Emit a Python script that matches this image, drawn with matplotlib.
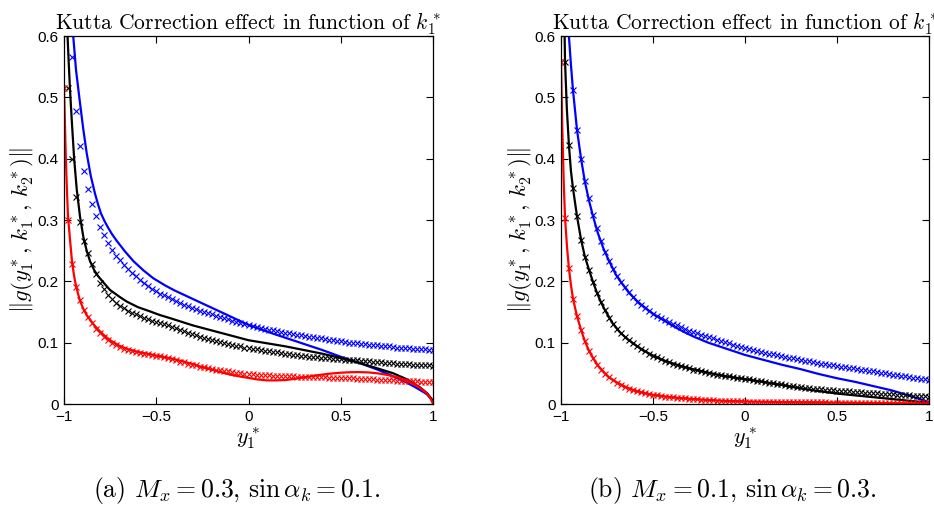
import numpy as np
import matplotlib
matplotlib.use("Agg")
import matplotlib.pyplot as plt

plt.rcParams['mathtext.fontset'] = 'cm'
plt.rcParams['font.family'] = ['Liberation Sans', 'DejaVu Sans']

# ---------------- data ----------------
marker_x = np.linspace(-1, 1, 93)

# (a) M_x = 0.3, sin alpha_k = 0.1
blue_a_markers = [0.95, 0.72, 0.566, 0.478, 0.421, 0.380, 0.350, 0.326, 0.306, 0.289,
                  0.276, 0.262, 0.251, 0.242, 0.234, 0.227, 0.220, 0.214, 0.208, 0.202,
                  0.197, 0.192, 0.188, 0.184, 0.180, 0.177, 0.174, 0.171, 0.168, 0.165,
                  0.162, 0.159, 0.157, 0.155, 0.152, 0.150, 0.148, 0.146, 0.144, 0.142,
                  0.140, 0.138, 0.136, 0.134, 0.132, 0.131, 0.129, 0.127, 0.126, 0.124,
                  0.123, 0.121, 0.120, 0.119, 0.117, 0.116, 0.115, 0.114, 0.113, 0.112,
                  0.111, 0.110, 0.109, 0.108, 0.107, 0.106, 0.105, 0.104, 0.103, 0.102,
                  0.101, 0.100, 0.100, 0.099, 0.098, 0.098, 0.097, 0.096, 0.096, 0.095,
                  0.094, 0.094, 0.093, 0.092, 0.092, 0.091, 0.091, 0.090, 0.090, 0.089,
                  0.089, 0.088, 0.088]
black_a_markers = [0.75, 0.515, 0.400, 0.337, 0.297, 0.266, 0.246, 0.229, 0.212, 0.198,
                   0.187, 0.177, 0.171, 0.165, 0.160, 0.156, 0.152, 0.149, 0.146, 0.143,
                   0.140, 0.138, 0.136, 0.134, 0.132, 0.130, 0.128, 0.126, 0.124, 0.121,
                   0.119, 0.116, 0.114, 0.112, 0.110, 0.108, 0.106, 0.104, 0.102, 0.101,
                   0.099, 0.098, 0.096, 0.095, 0.094, 0.092, 0.091, 0.090, 0.089, 0.088,
                   0.087, 0.086, 0.085, 0.084, 0.083, 0.082, 0.081, 0.080, 0.0795, 0.079,
                   0.078, 0.077, 0.0765, 0.076, 0.0755, 0.075, 0.0745, 0.074, 0.0735, 0.073,
                   0.0725, 0.072, 0.0715, 0.071, 0.0705, 0.070, 0.0695, 0.069, 0.0685, 0.068,
                   0.0675, 0.067, 0.0665, 0.066, 0.0655, 0.065, 0.0647, 0.0643, 0.064, 0.0635,
                   0.0632, 0.0628, 0.0625]
red_a_markers = [0.515, 0.300, 0.229, 0.191, 0.170, 0.153, 0.142, 0.132, 0.123, 0.116,
                 0.110, 0.105, 0.100, 0.096, 0.093, 0.090, 0.088, 0.086, 0.084, 0.083,
                 0.082, 0.081, 0.080, 0.079, 0.078, 0.076, 0.075, 0.073, 0.071, 0.069,
                 0.068, 0.066, 0.064, 0.063, 0.061, 0.060, 0.058, 0.057, 0.056, 0.055,
                 0.054, 0.053, 0.052, 0.051, 0.050, 0.0495, 0.049, 0.0485, 0.048, 0.0475,
                 0.047, 0.0467, 0.0464, 0.0461, 0.0458, 0.0455, 0.0452, 0.045, 0.0448, 0.0446,
                 0.0444, 0.0442, 0.044, 0.0438, 0.0436, 0.0434, 0.0432, 0.043, 0.0428, 0.0425,
                 0.0422, 0.0419, 0.0416, 0.0413, 0.041, 0.0407, 0.0404, 0.0401, 0.0398, 0.0395,
                 0.0392, 0.0389, 0.0386, 0.0383, 0.038, 0.0377, 0.0374, 0.0371, 0.0368, 0.0365,
                 0.0362, 0.0359, 0.0356]

blue_a_line_x = [-0.962, -0.95, -0.935, -0.913, -0.895, -0.877, -0.855, -0.832, -0.815, -0.80,
                 -0.78, -0.76, -0.74, -0.714, -0.67, -0.624, -0.57, -0.516, -0.45, -0.4,
                 -0.3, -0.2, -0.1, 0.0, 0.1, 0.2, 0.3, 0.4, 0.5, 0.6,
                 0.7, 0.785, 0.85, 0.9, 0.94, 0.966, 0.985, 1.0]
blue_a_line_y = [0.66, 0.60, 0.545, 0.49, 0.447, 0.409, 0.372, 0.343, 0.325, 0.311,
                 0.298, 0.287, 0.277, 0.266, 0.249, 0.233, 0.218, 0.205, 0.193, 0.185,
                 0.171, 0.157, 0.143, 0.129, 0.118, 0.108, 0.098, 0.088, 0.077, 0.067,
                 0.056, 0.045, 0.036, 0.028, 0.021, 0.016, 0.010, 0.004]
black_a_line_x = [-0.985, -0.975, -0.967, -0.958, -0.945, -0.931, -0.913, -0.895, -0.877, -0.859,
                  -0.836, -0.814, -0.78, -0.751, -0.70, -0.66, -0.60, -0.534, -0.48, -0.425,
                  -0.3, -0.2, -0.1, 0.0, 0.1, 0.2, 0.3, 0.4, 0.5, 0.6,
                  0.7, 0.785, 0.86, 0.93, 0.97, 1.0]
black_a_line_y = [0.63, 0.56, 0.51, 0.463, 0.40, 0.35, 0.305, 0.272, 0.250, 0.233,
                  0.218, 0.208, 0.196, 0.186, 0.175, 0.167, 0.158, 0.151, 0.145, 0.140,
                  0.128, 0.120, 0.112, 0.104, 0.099, 0.094, 0.088, 0.082, 0.075, 0.067,
                  0.058, 0.050, 0.040, 0.027, 0.017, 0.005]
red_a_line_x = [-1.0, -0.99, -0.983, -0.978, -0.968, -0.958, -0.948, -0.94, -0.925, -0.913,
                -0.895, -0.877, -0.86, -0.84, -0.82, -0.80, -0.775, -0.75, -0.70, -0.65,
                -0.60, -0.55, -0.50, -0.45, -0.40, -0.35, -0.30, -0.25, -0.20, -0.15,
                -0.10, -0.05, 0.0, 0.05, 0.10, 0.15, 0.20, 0.25, 0.30, 0.35,
                0.40, 0.45, 0.50, 0.55, 0.60, 0.65, 0.70, 0.75, 0.80, 0.85,
                0.90, 0.93, 0.96, 0.98, 0.99, 1.0]
red_a_line_y = [0.515, 0.40, 0.34, 0.305, 0.27, 0.237, 0.214, 0.200, 0.181, 0.168,
                0.155, 0.145, 0.138, 0.130, 0.123, 0.117, 0.110, 0.104, 0.095, 0.089,
                0.085, 0.082, 0.079, 0.076, 0.073, 0.069, 0.065, 0.060, 0.056, 0.052,
                0.048, 0.045, 0.0425, 0.040, 0.0385, 0.0385, 0.039, 0.041, 0.0435, 0.0458,
                0.048, 0.0497, 0.051, 0.0518, 0.052, 0.0515, 0.050, 0.0475, 0.044, 0.039,
                0.032, 0.026, 0.019, 0.012, 0.007, 0.0]

# (b) M_x = 0.1, sin alpha_k = 0.3
blue_b_markers = [1.2, 0.9, 0.66, 0.512, 0.447, 0.400, 0.364, 0.336, 0.308, 0.287,
                  0.266, 0.248, 0.233, 0.220, 0.209, 0.199, 0.190, 0.182, 0.174, 0.167,
                  0.161, 0.156, 0.151, 0.147, 0.143, 0.140, 0.137, 0.134, 0.131, 0.128,
                  0.125, 0.122, 0.119, 0.117, 0.115, 0.113, 0.111, 0.109, 0.107, 0.105,
                  0.103, 0.101, 0.099, 0.097, 0.095, 0.093, 0.091, 0.0895, 0.088, 0.0865,
                  0.085, 0.0836, 0.0822, 0.0808, 0.0794, 0.078, 0.0768, 0.0756, 0.0744, 0.0732,
                  0.072, 0.0708, 0.0696, 0.0684, 0.0672, 0.066, 0.065, 0.064, 0.063, 0.062,
                  0.061, 0.060, 0.059, 0.058, 0.057, 0.056, 0.055, 0.054, 0.053, 0.052,
                  0.051, 0.050, 0.049, 0.048, 0.047, 0.046, 0.045, 0.044, 0.043, 0.042,
                  0.041, 0.040, 0.039]
black_b_markers = [0.9, 0.557, 0.4225, 0.352, 0.306, 0.268, 0.240, 0.219, 0.199, 0.181,
                   0.166, 0.153, 0.141, 0.131, 0.123, 0.116, 0.110, 0.104, 0.099, 0.094,
                   0.090, 0.086, 0.082, 0.079, 0.076, 0.073, 0.070, 0.068, 0.066, 0.064,
                   0.062, 0.060, 0.058, 0.056, 0.055, 0.053, 0.052, 0.050, 0.049, 0.048,
                   0.047, 0.046, 0.045, 0.044, 0.043, 0.042, 0.041, 0.040, 0.039, 0.038,
                   0.037, 0.036, 0.035, 0.034, 0.033, 0.032, 0.031, 0.030, 0.029, 0.028,
                   0.027, 0.0264, 0.0258, 0.0252, 0.0246, 0.024, 0.0235, 0.023, 0.0225, 0.022,
                   0.0215, 0.021, 0.0205, 0.020, 0.0195, 0.019, 0.0186, 0.0182, 0.0178, 0.0174,
                   0.017, 0.0166, 0.0162, 0.0158, 0.0154, 0.015, 0.0146, 0.0142, 0.0138, 0.0134,
                   0.013, 0.0125, 0.012]
red_b_markers = [0.557, 0.303, 0.221, 0.172, 0.143, 0.121, 0.102, 0.087, 0.075, 0.064,
                 0.056, 0.049, 0.0435, 0.039, 0.035, 0.031, 0.028, 0.025, 0.023, 0.021,
                 0.019, 0.0175, 0.016, 0.015, 0.014, 0.013, 0.012, 0.0113, 0.0106, 0.010,
                 0.0095, 0.009, 0.0085, 0.008, 0.0076, 0.0072, 0.0068, 0.0064, 0.006, 0.0057,
                 0.0054, 0.0051, 0.0048, 0.0046, 0.0044, 0.0042, 0.004, 0.0039, 0.0038, 0.0037,
                 0.0036, 0.0035, 0.0034, 0.0033, 0.0032, 0.0031, 0.003, 0.0029, 0.0029, 0.0028,
                 0.0028, 0.0027, 0.0027, 0.0026, 0.0026, 0.0025, 0.0025, 0.0024, 0.0024, 0.0023,
                 0.0023, 0.0022, 0.0022, 0.0021, 0.0021, 0.002, 0.002, 0.002, 0.0019, 0.0019,
                 0.0018, 0.0018, 0.0018, 0.0017, 0.0017, 0.0017, 0.0016, 0.0016, 0.0016, 0.0015,
                 0.0015, 0.0015, 0.0015]

blue_b_line_x = [-0.962, -0.957, -0.946, -0.935, -0.913, -0.891, -0.870, -0.848, -0.826, -0.80,
                 -0.77, -0.74, -0.70, -0.67, -0.63, -0.58, -0.53, -0.489, -0.44, -0.39,
                 -0.335, -0.28, -0.2, -0.1, 0.0, 0.1, 0.2, 0.3, 0.4, 0.5,
                 0.6, 0.7, 0.8, 0.9, 0.95, 1.0]
blue_b_line_y = [0.64, 0.60, 0.553, 0.512, 0.447, 0.400, 0.362, 0.332, 0.306, 0.279,
                 0.254, 0.234, 0.210, 0.197, 0.181, 0.166, 0.154, 0.145, 0.136, 0.127,
                 0.118, 0.110, 0.100, 0.090, 0.080, 0.072, 0.064, 0.057, 0.049, 0.042,
                 0.036, 0.029, 0.022, 0.013, 0.008, 0.003]
black_b_line_x = [-0.982, -0.978, -0.968, -0.957, -0.946, -0.935, -0.913, -0.891, -0.870, -0.848,
                  -0.826, -0.804, -0.783, -0.761, -0.72, -0.68, -0.64, -0.60, -0.55, -0.50,
                  -0.45, -0.40, -0.35, -0.30, -0.2, -0.1, 0.0, 0.1, 0.2, 0.3,
                  0.4, 0.5, 0.6, 0.7, 0.8, 0.9, 1.0]
black_b_line_y = [0.63, 0.557, 0.48, 0.4225, 0.38, 0.352, 0.306, 0.268, 0.240, 0.219,
                  0.199, 0.181, 0.166, 0.153, 0.132, 0.117, 0.106, 0.097, 0.087, 0.079,
                  0.072, 0.067, 0.062, 0.058, 0.051, 0.045, 0.0405, 0.036, 0.031, 0.0255,
                  0.021, 0.017, 0.014, 0.011, 0.008, 0.005, 0.002]
red_b_line_x = [-1.0, -0.993, -0.985, -0.978, -0.967, -0.957, -0.946, -0.935, -0.913, -0.891,
                -0.870, -0.848, -0.826, -0.80, -0.77, -0.74, -0.70, -0.65, -0.60, -0.55,
                -0.50, -0.4, -0.3, -0.2, -0.1, 0.0, 0.25, 0.5, 0.75, 1.0]
red_b_line_y = [0.557, 0.45, 0.36, 0.303, 0.255, 0.221, 0.194, 0.172, 0.143, 0.121,
                0.102, 0.087, 0.075, 0.063, 0.053, 0.0435, 0.036, 0.028, 0.022, 0.018,
                0.015, 0.011, 0.0085, 0.0065, 0.005, 0.004, 0.003, 0.0022, 0.0015, 0.0]

x_ticks = [-1, -0.5, 0, 0.5, 1]
x_tick_labels = ['\u22121', '\u22120.5', '0', '0.5', '1']
y_ticks = [0, 0.1, 0.2, 0.3, 0.4, 0.5, 0.6]
y_tick_labels = ['0', '0.1', '0.2', '0.3', '0.4', '0.5', '0.6']

title_text = 'Kutta Correction effect in function of $k_1^*$'
ylabel_text = r'$\|g(y_1^*,\,k_1^*,\,k_2^*)\|$'
xlabel_text = r'$y_1^*$'
captions = [r'(a) $M_x=0.3$, $\sin\alpha_k=0.1$.', r'(b) $M_x=0.1$, $\sin\alpha_k=0.3$.']

# ---------------- figure ----------------
fig = plt.figure(figsize=(9.34, 5.14), dpi=100)
ax_a = fig.add_axes([64/934, 1-404/514, 369/934, 368/514])
ax_b = fig.add_axes([561/934, 1-404/514, 368/934, 368/514])

panels = [
    (ax_a, [(blue_a_line_x, blue_a_line_y, blue_a_markers, 'blue'),
            (black_a_line_x, black_a_line_y, black_a_markers, 'black'),
            (red_a_line_x, red_a_line_y, red_a_markers, 'red')]),
    (ax_b, [(blue_b_line_x, blue_b_line_y, blue_b_markers, 'blue'),
            (black_b_line_x, black_b_line_y, black_b_markers, 'black'),
            (red_b_line_x, red_b_line_y, red_b_markers, 'red')]),
]

for ax, series in panels:
    for lx, ly, my, col in series:
        ax.plot(lx, ly, color=col, lw=1.6, solid_capstyle='butt', solid_joinstyle='round')
        ax.plot(marker_x, my, ls='none', marker='x', ms=4.4, mew=0.8, color=col)
    ax.set_xlim(-1, 1)
    ax.set_ylim(0, 0.6)
    ax.set_xticks(x_ticks)
    ax.set_xticklabels(x_tick_labels)
    ax.set_yticks(y_ticks)
    ax.set_yticklabels(y_tick_labels)
    ax.tick_params(direction='in', top=True, right=True, length=5, width=0.8,
                   labelsize=11, pad=4)
    for sp in ax.spines.values():
        sp.set_linewidth(0.9)
    ax.set_title(title_text, fontfamily='cmr10', fontsize=15.5, pad=5)

for cx in (22, 520):
    fig.text(cx/934, 1-230/514, ylabel_text, rotation=90, ha='center', va='center', fontsize=16.5)

fig.text(248/934, 1-438/514, xlabel_text, ha='center', va='center', fontsize=16)
fig.text(745/934, 1-438/514, xlabel_text, ha='center', va='center', fontsize=16)

fig.text(237/934, 1-490/514, captions[0], ha='center', va='center', fontfamily='cmr10', fontsize=18.5)
fig.text(732/934, 1-490/514, captions[1], ha='center', va='center', fontfamily='cmr10', fontsize=18.5)

fig.savefig('out.png', dpi=100)
